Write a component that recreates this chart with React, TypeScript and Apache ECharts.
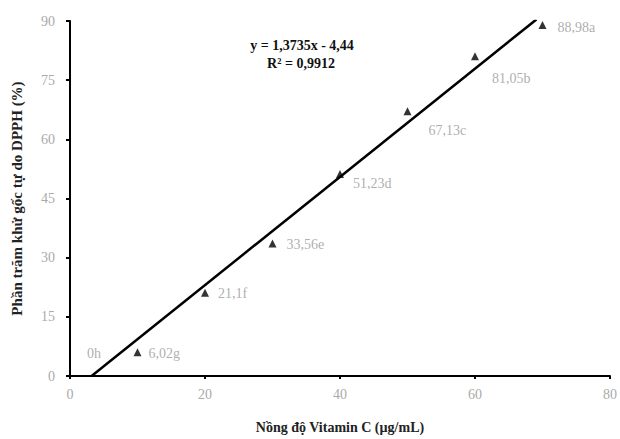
import React, { useEffect, useRef } from "react";
import * as echarts from "echarts";

const concentrations = [0, 10, 20, 30, 40, 50, 60, 70];
const inhibition = [0, 6.02, 21.1, 33.56, 51.23, 67.13, 81.05, 88.98];
const pointLabels = ["0h", "6,02g", "21,1f", "33,56e", "51,23d", "67,13c", "81,05b", "88,98a"];
const labelOffsets: [number, number][] = [
  [12, -23], [2, 1], [4, 1], [5, 1], [4, 10], [12, 19], [8, 22], [6, 2],
];
const trendX = [3.2, 69.1];
const trendY = [0, 90.4];
const equationLines = ["y = 1,3735x - 4,44", "R² = 0,9912"];
const xTicks = [0, 20, 40, 60, 80];
const yTicks = [0, 15, 30, 45, 60, 75, 90];

export default function App() {
  const ref = useRef<HTMLDivElement>(null);
  useEffect(() => {
    if (!ref.current) return;
    const chart = echarts.init(ref.current, undefined, { renderer: "svg" });
    const font = "'Liberation Serif', 'DejaVu Serif', serif";
    chart.setOption({
      animation: false,
      backgroundColor: "#ffffff",
      grid: { left: 70, right: 8, top: 21, bottom: 58, containLabel: false },
      xAxis: {
        type: "value",
        min: xTicks[0],
        max: xTicks[xTicks.length - 1],
        interval: 20,
        name: "Nồng độ Vitamin C (µg/mL)",
        nameLocation: "middle",
        nameGap: 44,
        nameTextStyle: { fontFamily: font, fontSize: 14, color: "#222", fontWeight: "bold" },
        axisLine: { lineStyle: { color: "#000", width: 2 } },
        axisTick: { show: true, inside: false, length: 3, lineStyle: { color: "#000", width: 2 } },
        axisLabel: { fontFamily: font, fontSize: 14, color: "#aaa", margin: 11 },
        splitLine: { show: false },
      },
      yAxis: {
        type: "value",
        min: yTicks[0],
        max: yTicks[yTicks.length - 1],
        interval: 15,
        name: "Phần trăm khử gốc tự do DPPH (%)",
        nameLocation: "middle",
        nameGap: 46,
        nameRotate: 90,
        nameTextStyle: { fontFamily: font, fontSize: 15, color: "#222", fontWeight: "bold" },
        axisLine: { lineStyle: { color: "#000", width: 2 } },
        axisTick: { show: true, inside: false, length: 4, lineStyle: { color: "#000", width: 2 } },
        axisLabel: { fontFamily: font, fontSize: 14, color: "#aaa", margin: 15 },
        splitLine: { show: false },
      },
      series: [
        {
          type: "line",
          data: trendX.map((x, i) => [x, trendY[i]]),
          symbol: "none",
          lineStyle: { color: "#000", width: 2.5 },
          z: 2,
        },
        {
          type: "scatter",
          symbol: "triangle",
          symbolSize: 8,
          itemStyle: { color: "#000" },
          z: 3,
          data: concentrations.map((x, i) => ({
            value: [x, inhibition[i]],
            symbolSize: i === 0 ? 0 : 8,
            label: {
              show: true,
              formatter: pointLabels[i],
              position: "right",
              offset: labelOffsets[i],
              fontFamily: font,
              fontSize: 14,
              color: "#999",
            },
          })),
        },
      ],
      graphic: [
        {
          type: "text",
          x: 302,
          y: 45,
          style: {
            text: equationLines[0],
            font: `bold 14px ${font}`,
            fill: "#111",
            align: "center",
            verticalAlign: "middle",
          },
        },
        {
          type: "text",
          x: 301,
          y: 63,
          style: {
            text: equationLines[1],
            font: `bold 14px ${font}`,
            fill: "#111",
            align: "center",
            verticalAlign: "middle",
          },
        },
      ],
    });
    return () => chart.dispose();
  }, []);
  return (
    <div
      ref={ref}
      style={{ position: "fixed", left: 0, top: 0, width: 620, height: 439, background: "#fff" }}
    />
  );
}
